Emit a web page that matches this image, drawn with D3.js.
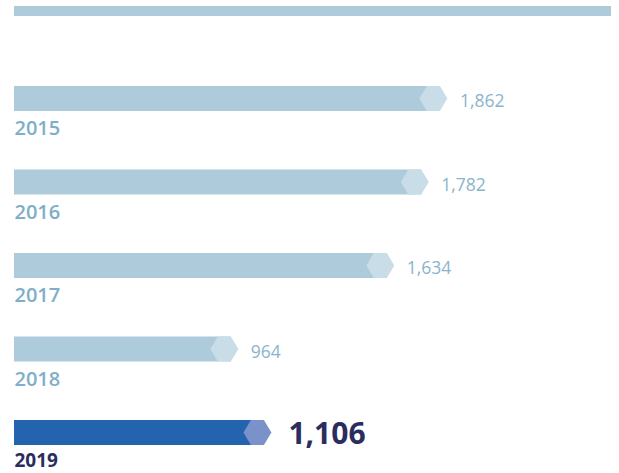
<!DOCTYPE html>
<html>
<head>
<meta charset="utf-8">
<script src="https://cdn.jsdelivr.net/npm/d3@7"></script>
<style>
  html, body { margin: 0; padding: 0; background: #ffffff; }
  svg { display: block; font-family: "Open Sans", "Noto Sans", sans-serif; }
</style>
</head>
<body>
<svg id="chart" width="619" height="473"></svg>
<script>
// Yearly totals
const years = ["2015", "2016", "2017", "2018", "2019"];
const values = [1862, 1782, 1634, 964, 1106];
const valueLabels = ["1,862", "1,782", "1,634", "964", "1,106"];
const highlightYear = "2019";
const scaleMax = 2565;

const svg = d3.select("#chart");

const x = d3.scaleLinear().domain([0, scaleMax]).range([14, 611]);
const y = d3.scalePoint().domain(years).range([86, 420]);
const barH = 25;
const hexW = 28, hexIn = 7.5;

const data = years.map((yr, i) => ({ year: yr, value: values[i], label: valueLabels[i] }));

// thin track along the top
svg.append("rect")
  .attr("x", x(0)).attr("y", 6)
  .attr("width", x(scaleMax) - x(0)).attr("height", 10)
  .attr("fill", "#aecbdc");

const g = svg.selectAll("g.row").data(data).join("g").attr("class", "row");

g.append("rect")
  .attr("x", x(0))
  .attr("y", d => y(d.year))
  .attr("width", d => x(d.value) - hexIn - x(0))
  .attr("height", barH)
  .attr("fill", d => d.year === highlightYear ? "#2463ae" : "#aecbdc");

// hexagon cap at the end of each bar
g.append("path")
  .attr("d", d => {
    const t = x(d.value), top = y(d.year), mid = top + barH / 2, bot = top + barH;
    const l = t - hexW;
    return `M${l},${mid}L${l + hexIn},${top}L${t - hexIn},${top}L${t},${mid}L${t - hexIn},${bot}L${l + hexIn},${bot}Z`;
  })
  .attr("fill", d => d.year === highlightYear ? "#7a92c9" : "#c8dde7");

g.append("text")
  .attr("x", d => x(d.value) + (d.year === highlightYear ? 17 : 12.5))
  .attr("y", d => y(d.year) + barH / 2 + (d.year === highlightYear ? 11.5 : 8.5))
  .attr("font-size", d => d.year === highlightYear ? 30 : 17.5)
  .attr("font-weight", d => d.year === highlightYear ? 700 : 400)
  .attr("fill", d => d.year === highlightYear ? "#2b2d5e" : "#8ab4cc")
  .text(d => d.label);

g.append("text")
  .attr("x", 14.5)
  .attr("y", d => y(d.year) + barH + (d.year === highlightYear ? 21.5 : 24))
  .attr("font-size", d => d.year === highlightYear ? 19 : 20)
  .attr("font-weight", d => d.year === highlightYear ? 700 : 600)
  .attr("fill", d => d.year === highlightYear ? "#2b2d5e" : "#7eaec9")
  .text(d => d.year);
</script>
</body>
</html>
